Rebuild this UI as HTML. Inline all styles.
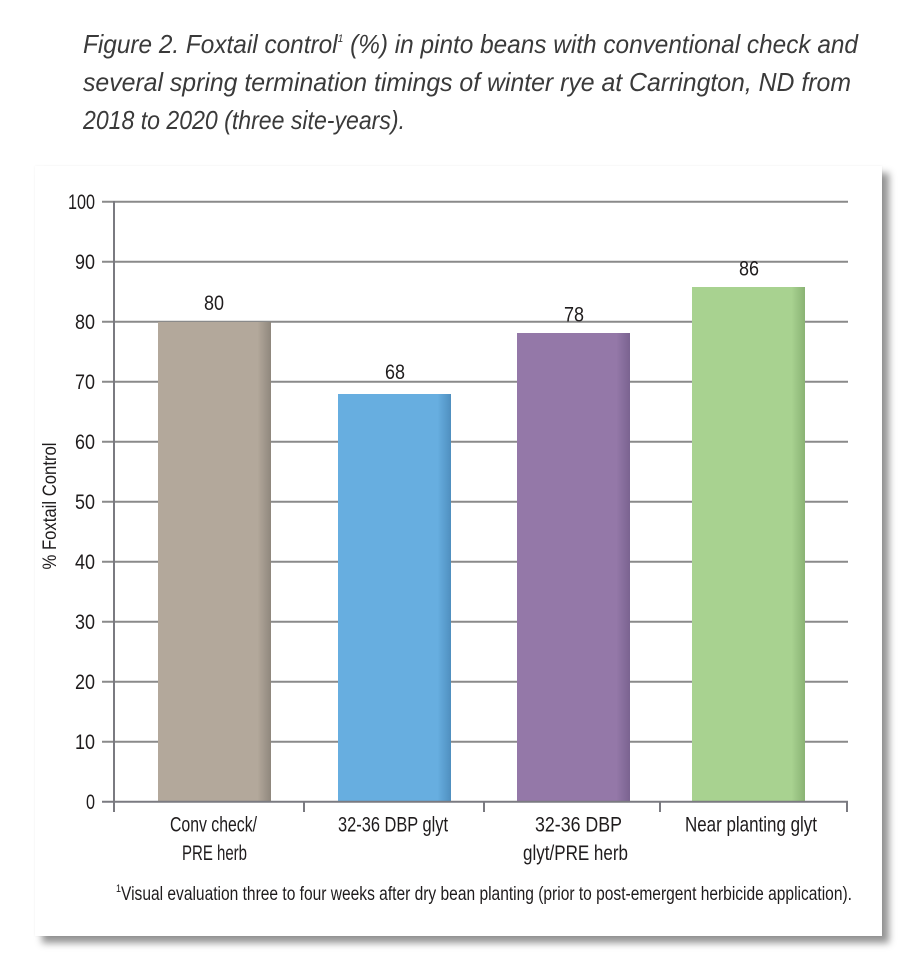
<!DOCTYPE html>
<html>
<head>
<meta charset="utf-8">
<style>
  html,body{margin:0;padding:0;background:#fff;}
  body{width:916px;height:968px;position:relative;overflow:hidden;}
  .card{position:absolute;left:35px;top:166px;width:847px;height:770px;background:#fff;
        box-shadow:7px 7px 7px rgba(0,0,0,0.42), 0 0 2px rgba(0,0,0,0.06);}
  svg{position:absolute;left:0;top:0;}
  .t{font-family:"Liberation Sans Narrow","Liberation Sans",sans-serif;fill:#1f1c1d;}
</style>
</head>
<body>
<div class="card"></div>
<svg width="916" height="968" viewBox="0 0 916 968" xmlns="http://www.w3.org/2000/svg">
  <defs>
    <linearGradient id="g1" x1="0" x2="1" y1="0" y2="0">
      <stop offset="0" stop-color="#b3a89b"/><stop offset="0.88" stop-color="#b3a89b"/><stop offset="1" stop-color="#8f877d"/>
    </linearGradient>
    <linearGradient id="g2" x1="0" x2="1" y1="0" y2="0">
      <stop offset="0" stop-color="#67aee0"/><stop offset="0.88" stop-color="#67aee0"/><stop offset="1" stop-color="#4f8fbf"/>
    </linearGradient>
    <linearGradient id="g3" x1="0" x2="1" y1="0" y2="0">
      <stop offset="0" stop-color="#9478a8"/><stop offset="0.88" stop-color="#9478a8"/><stop offset="1" stop-color="#7a6390"/>
    </linearGradient>
    <linearGradient id="g4" x1="0" x2="1" y1="0" y2="0">
      <stop offset="0" stop-color="#a8d290"/><stop offset="0.88" stop-color="#a8d290"/><stop offset="1" stop-color="#8ab374"/>
    </linearGradient>
  </defs>

  <!-- Title -->
  <g font-family="'Liberation Sans Narrow','Liberation Sans',sans-serif" font-style="italic" font-size="26" fill="#3a3a3a">
    <text x="83" y="53" textLength="775" lengthAdjust="spacingAndGlyphs">Figure 2. Foxtail control<tspan font-size="11" dy="-11">1</tspan><tspan dy="11"> (%) in pinto beans with conventional check and</tspan></text>
    <text x="83" y="91" textLength="768" lengthAdjust="spacingAndGlyphs">several spring termination timings of winter rye at Carrington, ND from</text>
    <text x="83" y="129" textLength="322" lengthAdjust="spacingAndGlyphs">2018 to 2020 (three site-years).</text>
  </g>

  <!-- Gridlines -->
  <g stroke="#8a8a8a" stroke-width="2">
    <line x1="102" y1="201.7" x2="848" y2="201.7"/>
    <line x1="102" y1="261.7" x2="848" y2="261.7"/>
    <line x1="102" y1="321.7" x2="848" y2="321.7"/>
    <line x1="102" y1="381.7" x2="848" y2="381.7"/>
    <line x1="102" y1="441.7" x2="848" y2="441.7"/>
    <line x1="102" y1="501.7" x2="848" y2="501.7"/>
    <line x1="102" y1="561.7" x2="848" y2="561.7"/>
    <line x1="102" y1="621.7" x2="848" y2="621.7"/>
    <line x1="102" y1="681.7" x2="848" y2="681.7"/>
    <line x1="102" y1="741.7" x2="848" y2="741.7"/>
  </g>

  <!-- Bars -->
  <rect x="158" y="322" width="113" height="479.7" fill="url(#g1)"/>
  <rect x="338" y="394" width="113" height="407.7" fill="url(#g2)"/>
  <rect x="517" y="333" width="113" height="468.7" fill="url(#g3)"/>
  <rect x="692" y="287" width="113" height="514.7" fill="url(#g4)"/>

  <!-- Axes -->
  <g stroke="#7a7a80" stroke-width="2">
    <line x1="114" y1="201" x2="114" y2="812"/>
    <line x1="102" y1="801.7" x2="848" y2="801.7"/>
    <line x1="304" y1="801.7" x2="304" y2="812"/>
    <line x1="484" y1="801.7" x2="484" y2="812"/>
    <line x1="660" y1="801.7" x2="660" y2="812"/>
    <line x1="847" y1="801.7" x2="847" y2="812"/>
  </g>

  <!-- Y tick labels -->
  <g class="t" font-size="21" text-anchor="end">
    <text x="95" y="209" textLength="27" lengthAdjust="spacingAndGlyphs">100</text>
    <text x="95" y="269" textLength="20" lengthAdjust="spacingAndGlyphs">90</text>
    <text x="95" y="329" textLength="20" lengthAdjust="spacingAndGlyphs">80</text>
    <text x="95" y="389" textLength="20" lengthAdjust="spacingAndGlyphs">70</text>
    <text x="95" y="449" textLength="20" lengthAdjust="spacingAndGlyphs">60</text>
    <text x="95" y="509" textLength="20" lengthAdjust="spacingAndGlyphs">50</text>
    <text x="95" y="569" textLength="20" lengthAdjust="spacingAndGlyphs">40</text>
    <text x="95" y="629" textLength="20" lengthAdjust="spacingAndGlyphs">30</text>
    <text x="95" y="689" textLength="20" lengthAdjust="spacingAndGlyphs">20</text>
    <text x="95" y="749" textLength="20" lengthAdjust="spacingAndGlyphs">10</text>
    <text x="95" y="809" textLength="9" lengthAdjust="spacingAndGlyphs">0</text>
  </g>

  <!-- Y axis title -->
  <text class="t" font-size="19" text-anchor="middle" transform="translate(56,506) rotate(-90)" textLength="127" lengthAdjust="spacingAndGlyphs">% Foxtail Control</text>

  <!-- Data labels -->
  <g class="t" font-size="21" text-anchor="middle">
    <text x="214" y="310" textLength="20" lengthAdjust="spacingAndGlyphs">80</text>
    <text x="395" y="379" textLength="20" lengthAdjust="spacingAndGlyphs">68</text>
    <text x="574" y="321.5" textLength="20" lengthAdjust="spacingAndGlyphs">78</text>
    <text x="749" y="275.5" textLength="20" lengthAdjust="spacingAndGlyphs">86</text>
  </g>

  <!-- Category labels -->
  <g class="t" font-size="21" text-anchor="middle">
    <text x="213.5" y="831.5" textLength="87" lengthAdjust="spacingAndGlyphs">Conv check/</text>
    <text x="214.5" y="860" textLength="65" lengthAdjust="spacingAndGlyphs">PRE herb</text>
    <text x="393" y="831.5" textLength="110" lengthAdjust="spacingAndGlyphs">32-36 DBP glyt</text>
    <text x="578.5" y="831.5" textLength="87" lengthAdjust="spacingAndGlyphs">32-36 DBP</text>
    <text x="575.5" y="860" textLength="105" lengthAdjust="spacingAndGlyphs">glyt/PRE herb</text>
    <text x="751" y="831.5" textLength="132" lengthAdjust="spacingAndGlyphs">Near planting glyt</text>
  </g>

  <!-- Footnote -->
  <text class="t" font-size="19" x="116" y="900" textLength="736" lengthAdjust="spacingAndGlyphs"><tspan font-size="11" dy="-8">1</tspan><tspan dy="8">Visual evaluation three to four weeks after dry bean planting (prior to post-emergent herbicide application).</tspan></text>
</svg>
</body>
</html>
